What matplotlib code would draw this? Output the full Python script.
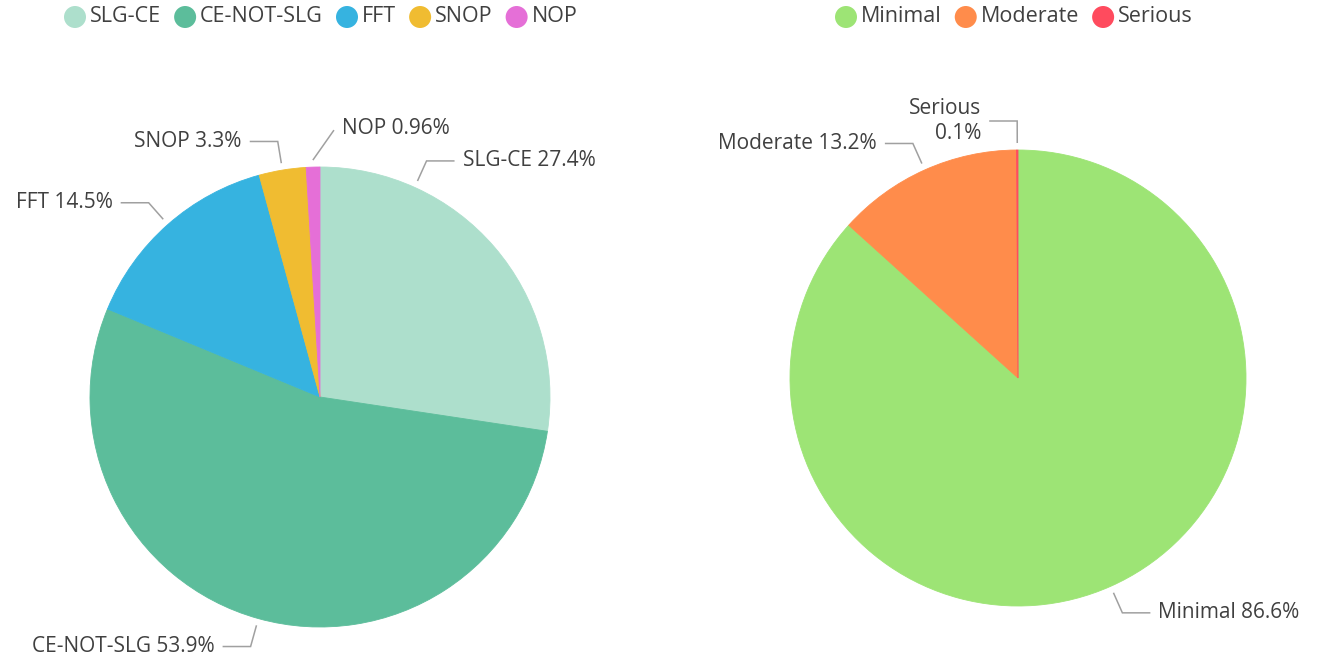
import matplotlib
matplotlib.use("Agg")
import matplotlib.pyplot as plt
from matplotlib.patches import Circle
import numpy as np

# ---------------- data ----------------
left_labels = ["SLG-CE", "CE-NOT-SLG", "FFT", "SNOP", "NOP"]
left_values = [27.4, 53.9, 14.5, 3.3, 0.96]
left_pct = ["27.4%", "53.9%", "14.5%", "3.3%", "0.96%"]

right_labels = ["Minimal", "Moderate", "Serious"]
right_values = [86.6, 13.2, 0.1]
right_pct = ["86.6%", "13.2%", "0.1%"]

left_colors = ["#ADDFCC", "#5CBD9B", "#36B3E0", "#F0BC31", "#E56FD7"]
right_colors = ["#9DE475", "#FF8C4B", "#FF4B5E"]

# ---------------- layout ----------------
W, H = 1325, 662
FONT = "Open Sans"
FS = 15
LFS = 15.5
TXT = "#404040"
LINE = "#A0A0A0"

plt.rcParams['font.family'] = [FONT, 'DejaVu Sans']

fig = plt.figure(figsize=(W / 100, H / 100), dpi=100)
ax = fig.add_axes([0, 0, 1, 1])


def Y(py):
    return H - py


def draw_pie(values, colors, names, pcts, cx, cy, r, label_opts):
    wedges, _ = ax.pie(values, colors=colors, startangle=90, counterclock=False,
                       center=(cx, Y(cy)), radius=r,
                       wedgeprops=dict(linewidth=0.6, antialiased=True))
    for w, c in zip(wedges, colors):
        w.set_edgecolor(c)
    for w, name, pct, opt in zip(wedges, names, pcts, label_opts):
        mid = (w.theta1 + w.theta2) / 2 + opt.get("dang", 0)
        a = np.deg2rad(mid)
        side = opt.get("side", 1 if np.cos(a) >= 0 else -1)
        er = opt.get("er", 29)
        ax0 = cx + (r + 7) * np.cos(a)
        ay0 = Y(cy) + (r + 7) * np.sin(a)
        ex = cx + (r + er) * np.cos(a) + opt.get("edx", 0)
        ey = Y(cy) + (r + er) * np.sin(a)
        hl = opt.get("hlen", 28)
        hx = ex + side * hl
        ax.plot([ax0, ex, hx], [ay0, ey, ey], color=LINE, lw=1.1,
                solid_joinstyle="miter", solid_capstyle="butt")
        txt = opt.get("fmt", "{} {}").format(name, pct)
        ax.text(hx + side * 8, ey + opt.get("tdy", 0), txt,
                ha="left" if side > 0 else "right", va="center",
                multialignment="right", fontsize=FS, color=TXT,
                linespacing=1.2)


left_opts = [
    {"dang": 25},
    {},
    {},
    {},
    {"side": 1, "edx": 22, "hlen": 0, "er": 37, "tdy": 2},
]
right_opts = [
    {},
    {},
    {"fmt": "{}\n{}", "side": -1},
]

draw_pie(left_values, left_colors, left_labels, left_pct, 320, 397, 230, left_opts)
draw_pie(right_values, right_colors, right_labels, right_pct, 1018, 378, 228, right_opts)

ax.set_xlim(0, W)
ax.set_ylim(0, H)
ax.set_aspect("equal")
ax.axis("off")

# ---------------- legends ----------------
fig.canvas.draw()
renderer = fig.canvas.get_renderer()


def draw_legend(names, colors, x0, py):
    x = x0
    for name, c in zip(names, colors):
        ax.add_patch(Circle((x, Y(py)), 11, color=c, lw=0))
        t = ax.text(x + 15, Y(py), name, ha="left", va="center",
                    fontsize=LFS, color=TXT)
        bb = t.get_window_extent(renderer=renderer)
        x = bb.x1 + 24


draw_legend(left_labels, left_colors, 75, 17)
draw_legend(right_labels, right_colors, 846, 17)

fig.savefig("out.png", dpi=100, facecolor="white")
